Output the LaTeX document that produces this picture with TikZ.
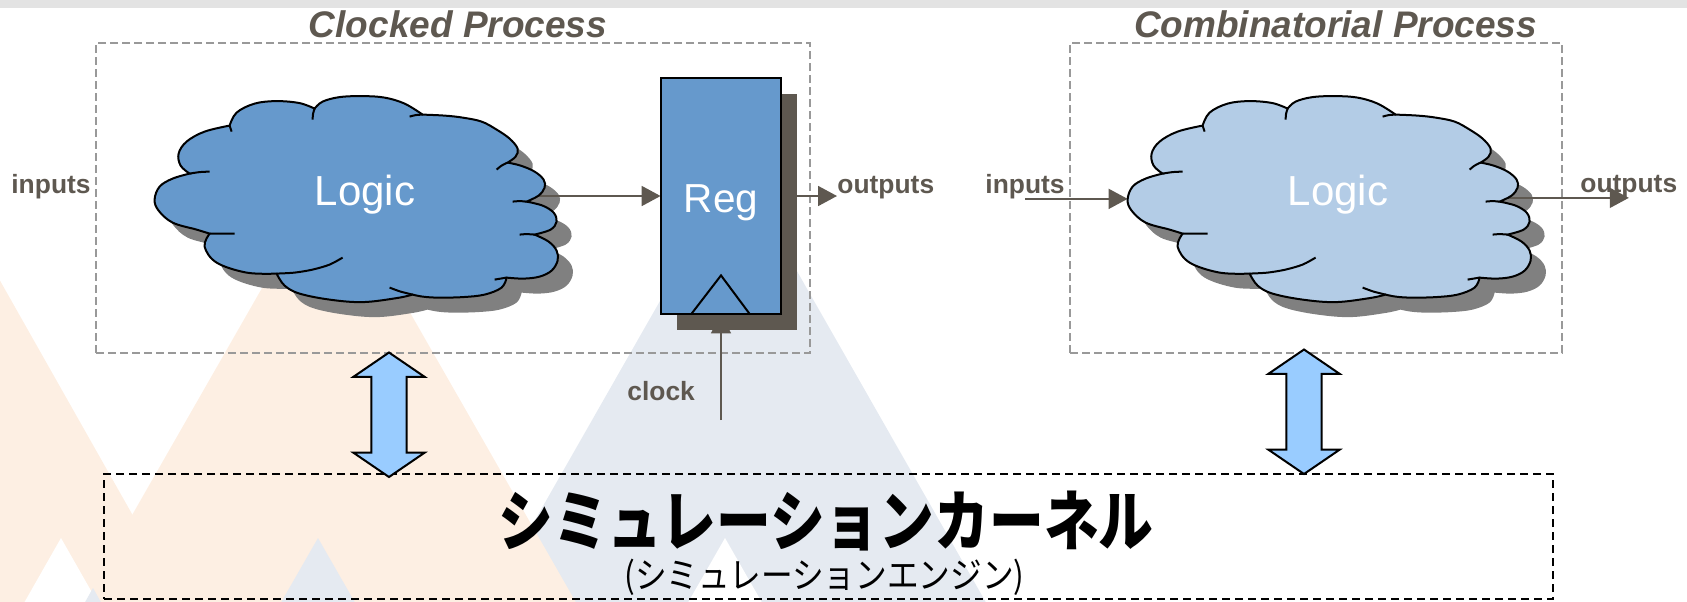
\documentclass[tikz,border=0pt]{standalone}
\usepackage{fontspec}
\usepackage{graphicx}
\setmainfont{Liberation Sans}
\newfontfamily\cjkfont{Noto Sans CJK JP}
\usetikzlibrary{arrows.meta,calc}

\definecolor{ink}{RGB}{94,88,80}
\definecolor{cloudshade}{RGB}{128,128,128}
\definecolor{logicdark}{RGB}{102,153,204}
\definecolor{logiclight}{RGB}{179,204,230}
\definecolor{syncblue}{RGB}{153,204,255}
\definecolor{peach}{RGB}{253,239,227}
\definecolor{mist}{RGB}{229,234,241}
\definecolor{boxgrey}{RGB}{153,153,153}
\definecolor{band}{RGB}{227,227,227}

% Cloud outline in local units, measured from the top-left corner of a 402 x 206 box
\newcommand\cloudoutline{%
  plot[smooth,tension=.6] coordinates {(75,30) (82,17) (100,8) (122,5.5) (145,7.5) (160,13)}
  -- plot[smooth,tension=.6] coordinates {(160,13) (168,6) (185,1.5) (208,0.5) (230,2) (250,8) (268,19)}
  -- plot[smooth,tension=.6] coordinates {(268,19) (290,20) (308,22) (327,26) (342,34) (355,43) (363,53) (361,61) (353,67)}
  -- plot[smooth,tension=.6] coordinates {(353,67) (366,70) (380,76) (389,84) (390,92) (384,100) (372,106)}
  -- plot[smooth,tension=.6] coordinates {(372,106) (388,110) (399,117) (402,126) (396,134) (380,139)}
  -- plot[smooth,tension=.6] coordinates {(380,139) (394,146) (402,155) (403,165) (397,175) (385,181) (369,183) (352,182)}
  -- plot[smooth,tension=.6] coordinates {(352,182) (347,192) (330,199) (308,201.5) (283,202) (268,201) (258,199)}
  -- plot[smooth,tension=.6] coordinates {(258,199) (242,202.5) (208,206.5) (175,204) (145,198) (130,190) (122,178)}
  -- plot[smooth,tension=.6] coordinates {(122,178) (92,177) (62,167) (50,151) (55,138)}
  -- plot[smooth,tension=.6] coordinates {(55,138) (42,134) (18,127) (4,115) (0,104) (5,91) (18,83) (35,78)}
  -- plot[smooth,tension=.6] coordinates {(35,78) (26,70) (24,58) (32,46) (50,36) (75,30)}
  -- cycle}

% Short arcs where the bumps of the cloud run on into its inside
\newcommand\cloudstubs{%
  plot[smooth] coordinates {(75,30) (76,33) (77,36)}
  plot[smooth] coordinates {(160,13) (158.5,18) (158,24)}
  plot[smooth] coordinates {(268,19) (261,19.5) (255,21)}
  plot[smooth] coordinates {(353,67) (347,70) (342,74)}
  plot[smooth] coordinates {(372,106) (365,105.5) (358,106)}
  plot[smooth] coordinates {(380,139) (372,138.5) (365,139)}
  plot[smooth] coordinates {(352,182) (346,183) (340,184)}
  plot[smooth] coordinates {(258,199) (246,196) (235,192)}
  plot[smooth] coordinates {(122,178) (140,177) (158,174) (175,169) (188,162)}
  plot[smooth] coordinates {(55,138) (68,138) (80,138)}
  plot[smooth] coordinates {(35,78) (45,76.5) (55,76)}}

% Vertical two-headed block arrow centred on a coordinate
\newcommand\syncarrow[1]{%
  \draw[syncstyle, shift={(#1)}]
    (0,-62.25) -- (35.7,-37.85) -- (17.7,-37.85) -- (17.7,37.85) -- (35.7,37.85)
    -- (0,62.25) -- (-35.7,37.85) -- (-17.7,37.85) -- (-17.7,-37.85) -- (-35.7,-37.85) -- cycle;}

\begin{document}
\begin{tikzpicture}[x=0.5pt, y=-0.5pt,
  procbox/.style={draw=boxgrey, line width=0.7pt, dash pattern=on 4pt off 2pt, inner sep=0pt},
  kernelbox/.style={draw=black, line width=0.7pt, dash pattern=on 4pt off 2.5pt, inner sep=0pt},
  title/.style={font=\fontsize{18.5}{22}\selectfont\bfseries\itshape, text=ink, inner sep=0pt, anchor=base},
  lbl/.style={font=\fontsize{13.2}{16}\selectfont\bfseries, text=ink, inner sep=0pt, anchor=base west},
  logiclbl/.style={font=\fontsize{21}{25}\selectfont, text=white, inner sep=0pt, anchor=base},
  reglbl/.style={font=\fontsize{20.25}{24}\selectfont, text=white, inner sep=0pt, anchor=base},
  cloudbox/.style={inner sep=0pt, minimum width=201pt, minimum height=103pt},
  cloudline/.style={draw=black, line width=1pt},
  flow/.style={draw=ink, line width=0.9pt, -{Triangle[length=9.5pt,width=10pt]}},
  syncstyle/.style={draw=black, fill=syncblue, line width=1pt},
  kernelmain/.style={font=\cjkfont\bfseries\fontsize{33}{40}\selectfont, inner sep=0pt},
  kernelsub/.style={font=\cjkfont\fontsize{18}{22}\selectfont, inner sep=0pt},
]
\useasboundingbox (0,0) rectangle (1687,601);

% decorative background mountains and the top band
\begin{scope}
  \clip (0,0) rectangle (1687,601);
  \fill[mist]  (737,166) -- (996,620) -- (478,620) -- cycle;
  \fill[peach] (-62,171) -- (192,620) -- (-400,620) -- cycle;
  \fill[peach] (329,171) -- (586,620) -- (72,620) -- cycle;
  \fill[white] (61,538) -- (107.7,620) -- (14.3,620) -- cycle;
  \fill[mist]  (318,538) -- (365,620) -- (271,620) -- cycle;
  \fill[white] (725,538) -- (772,620) -- (678,620) -- cycle;
  \fill[mist]  (93,588) -- (111,620) -- (75,620) -- cycle;
  \fill[band]  (0,0) rectangle (1687,7.5);
\end{scope}

% process frames and their titles
\node[procbox, minimum width=357pt, minimum height=155pt] (clocked) at (453,198) {};
\node[procbox, minimum width=246pt, minimum height=155pt] (comb) at (1316,198) {};
\node[title] (clockedT) at (458,37) {Clocked Process};
\node[title] (combT) at (1335.5,37) {Combinatorial Process};

% placeholders for the clouds and the register
\node[cloudbox] (cloudA) at (356,199) {};
\node[cloudbox] (cloudB) at (1329,199) {};
\node[inner sep=0pt, minimum width=60pt, minimum height=118pt] (reg) at (721,196) {};

% signal labels
\node[lbl] (inA)  at (11,193)   {inputs};
\node[lbl] (outA) at (837,193)  {outputs};
\node[lbl] (inB)  at (985,193)  {inputs};
\node[lbl] (outB) at (1580,192) {outputs};
\node[lbl] (clk)  at (627,400)  {clock};
\coordinate (clkfoot) at (721,420);

% cloud shadows
\fill[cloudshade, shift={(cloudA.north west)}, shift={(15,15)}] \cloudoutline;
\fill[cloudshade, shift={(cloudB.north west)}, shift={(15,15)}] \cloudoutline;

% signal connectors
\draw[flow] (cloudA.center |- reg.west) -- (reg.west);
\draw[flow] (reg.east) -- (outA.west |- reg.east);
\draw[flow] (clkfoot) -- (reg.south);
\draw[flow] (inB.south) -- (inB.south -| cloudB.west);
\draw[flow] (cloudB.center |- outB.south) -- (outB.south);

% clouds
\path[fill=logicdark, cloudline, shift={(cloudA.north west)}] \cloudoutline;
\path[cloudline, shift={(cloudA.north west)}] \cloudstubs;
\path[fill=logiclight, cloudline, shift={(cloudB.north west)}] \cloudoutline;
\path[cloudline, shift={(cloudB.north west)}] \cloudstubs;

% register with its shadow and clock input mark
\fill[ink] ($(reg.north west)+(16,16)$) rectangle ($(reg.south east)+(16,16)$);
\filldraw[fill=logicdark, draw=black, line width=1pt] (reg.north west) rectangle (reg.south east);
\draw[black, line width=1pt] ($(reg.south)+(-30,0)$) -- ($(reg.south)+(0,-39)$) -- ($(reg.south)+(29,0)$);

% texts inside the shapes
\node[logiclbl] (logicA) at (365,205) {Logic};
\node[logiclbl] (logicB) at (1338,205) {Logic};
\node[reglbl] (regT) at (721,212.3) {Reg};

% simulation kernel and the links to it
\node[kernelbox, minimum width=724.5pt, minimum height=62.5pt] (kernel) at (828.5,536.5) {};
\node[kernelmain] (kernelT) at (826,521) {\scalebox{0.83}[1]{シミュレーションカーネル}};
\node[kernelsub] (kernelS) at (824.5,577) {\scalebox{0.88}[1]{(シミュレーションエンジン)}};
\coordinate (syncA) at (389,414.75);
\coordinate (syncB) at (1304,411.75);
\syncarrow{syncA}
\syncarrow{syncB}
\end{tikzpicture}
\end{document}
